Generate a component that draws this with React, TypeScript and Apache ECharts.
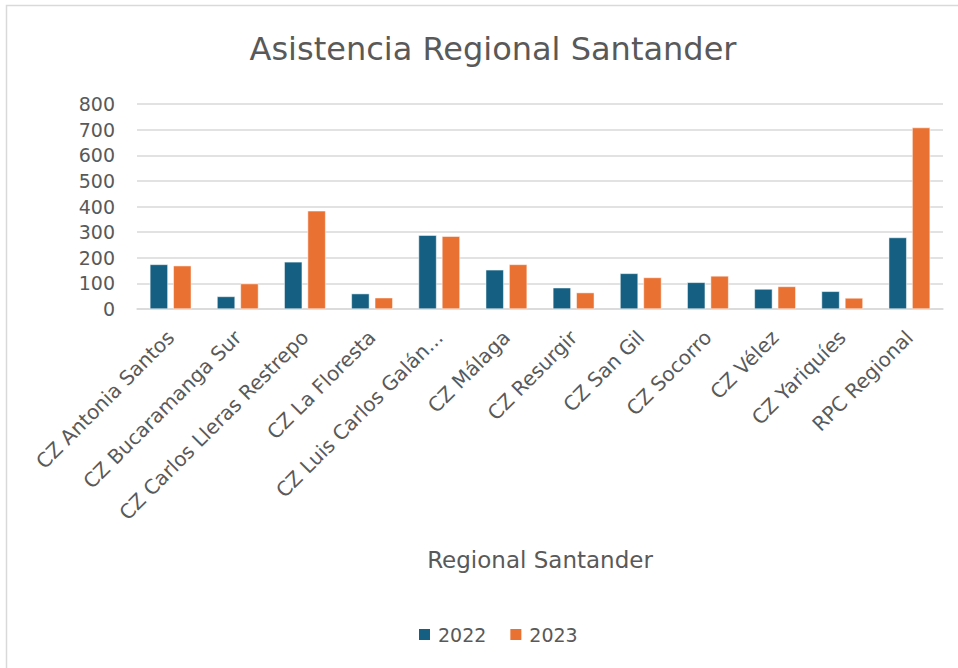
import React, { useEffect, useRef } from "react";
import * as echarts from "echarts";

const categories = [
  "CZ Antonia Santos",
  "CZ Bucaramanga Sur",
  "CZ Carlos Lleras Restrepo",
  "CZ La Floresta",
  "CZ Luis Carlos Galán...",
  "CZ Málaga",
  "CZ Resurgir",
  "CZ San Gil",
  "CZ Socorro",
  "CZ Vélez",
  "CZ Yariquíes",
  "RPC Regional",
];
const values2022 = [174, 49, 184, 60, 288, 153, 83, 139, 104, 78, 69, 279];
const values2023 = [169, 99, 383, 44, 284, 174, 64, 123, 129, 88, 43, 708];
const seriesNames = ["2022", "2023"];
const titleText = "Asistencia Regional Santander";
const axisTitle = "Regional Santander";

const FONT = "'DejaVu Sans', 'Open Sans', sans-serif";

export default function App() {
  const ref = useRef<HTMLDivElement>(null);
  useEffect(() => {
    if (!ref.current) return;
    const chart = echarts.init(ref.current, undefined, { renderer: "svg" });
    chart.setOption({
      animation: false,
      backgroundColor: "#ffffff",
      textStyle: { fontFamily: FONT },
      title: {
        text: titleText,
        left: 488,
        top: 28,
        textAlign: "center",
        textStyle: { fontSize: 32, fontWeight: "normal", color: "#595959", fontFamily: FONT },
      },
      graphic: [
        {
          type: "rect",
          shape: { x: 6.5, y: 5.5, width: 960, height: 670 },
          style: { fill: "none", stroke: "#d9d9d9", lineWidth: 1.5 },
          silent: true,
        },
      ],
      legend: {
        data: seriesNames,
        left: 412,
        top: 620,
        itemWidth: 13,
        itemHeight: 13,
        itemGap: 22,
        icon: "rect",
        textStyle: { fontSize: 19, color: "#595959", fontFamily: FONT, padding: [0, 0, 0, 2] },
      },
      grid: { left: 137, right: 15, top: 104, bottom: 359, containLabel: false },
      xAxis: {
        type: "category",
        data: categories,
        name: axisTitle,
        nameLocation: "middle",
        nameGap: 239,
        nameTextStyle: { fontSize: 23, color: "#595959", fontFamily: FONT },
        axisLine: { show: true, lineStyle: { color: "#d9d9d9", width: 1.5 } },
        axisTick: { show: false },
        axisLabel: {
          rotate: 45,
          interval: 0,
          fontSize: 20,
          color: "#595959",
          fontFamily: FONT,
          margin: 25,
        },
      },
      yAxis: {
        type: "value",
        min: 0,
        max: 800,
        interval: 100,
        axisLine: { show: false },
        axisTick: { show: false },
        splitLine: { lineStyle: { color: "#d9d9d9", width: 1.5 } },
        axisLabel: { fontSize: 19, color: "#595959", fontFamily: FONT, margin: 22 },
      },
      series: [
        {
          name: seriesNames[0],
          type: "bar",
          data: values2022,
          barWidth: 18,
          barGap: "30%",
          itemStyle: { color: "#156082", borderColor: "#ffffff", borderWidth: 0.5 },
        },
        {
          name: seriesNames[1],
          type: "bar",
          data: values2023,
          barWidth: 18,
          barGap: "30%",
          itemStyle: { color: "#E97132", borderColor: "#ffffff", borderWidth: 0.5 },
        },
      ],
    });
    return () => chart.dispose();
  }, []);
  return <div ref={ref} style={{ width: 958, height: 668, position: "absolute", left: 0, top: 0 }} />;
}
